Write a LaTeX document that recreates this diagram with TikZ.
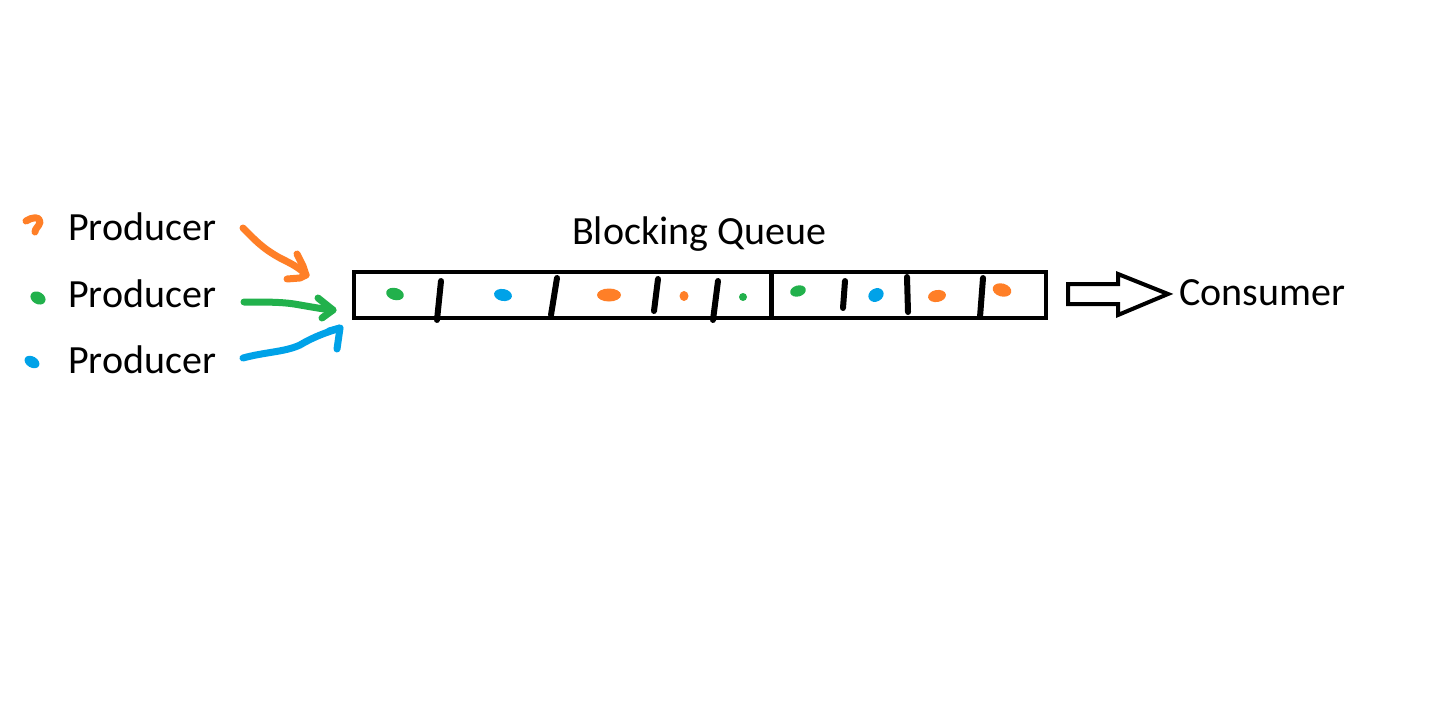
\documentclass[tikz,border=0pt]{standalone}
\usepackage{fontspec}
\setmainfont{Carlito}
\definecolor{porange}{HTML}{FF7F27}
\definecolor{pgreen}{HTML}{22B14C}
\definecolor{pblue}{HTML}{00A2E8}
\begin{document}
\begin{tikzpicture}[x=1pt,y=-1pt,
  lbl/.style={inner sep=0pt, font=\fontsize{40}{48}\selectfont, anchor=base west},
  stroke/.style={line width=7pt, line cap=round, line join=round},
  divider/.style={line width=6pt, line cap=round, black},
  blob/.style={fill=#1, draw=#1, line width=1pt}]
\useasboundingbox (0,0) rectangle (1455,717);

% labels
\node[lbl] (p1) at (68,240) {Producer};
\node[lbl] (p2) at (68,307) {Producer};
\node[lbl] (p3) at (68,373) {Producer};
\node[lbl] (title) at (572,244) {Blocking Queue};
\node[lbl] (cons) at (1179,305) {Consumer};

% queue
\node[draw, line width=4pt, minimum width=692pt, minimum height=46pt, inner sep=0pt] (q) at (700,295) {};

% producer legend blobs
\draw[stroke, porange, line width=7pt] (26,221) .. controls (32,217) and (40,216) .. (40,222) .. controls (39,227) and (35,228) .. (35,232);
\fill[pgreen, rotate around={-30:(38,298)}] (38,298) ellipse (8pt and 6pt);
\fill[pblue, rotate around={-30:(32,362)}] (32,362) ellipse (8pt and 5.5pt);

% hand-drawn arrows
\coordinate (o1) at (243,228);
\coordinate (ot) at (306,275);
\coordinate (g1) at (244,302);
\coordinate (gt) at (333,310);
\coordinate (b1) at (243,358);
\coordinate (bt) at (340,328);
\draw[stroke, porange] (o1) .. controls (255,240) and (262,248) .. (280,258) .. controls (292,264) and (300,268) .. (ot);
\draw[stroke, porange] (297,254) -- (303,266) -- (ot);
\draw[stroke, porange] (287,279) -- (300,278) -- (ot);
\draw[stroke, pgreen] (g1) .. controls (270,302) and (285,302) .. (300,305) .. controls (312,307) and (322,309) .. (gt);
\draw[stroke, pgreen] (318,298) -- (gt) -- (322,318);
\draw[stroke, pblue] (b1) .. controls (265,352) and (285,352) .. (300,345) .. controls (315,336) and (328,332) .. (bt);
\draw[stroke, pblue] (329,331) -- (bt) -- (337,349);

% dividers
\draw[divider] (441,281) -- (437,320);
\draw[divider] (557,278) -- (551,315);
\draw[divider] (658,279) -- (654,311);
\draw[divider] (718,281) -- (713,320);
\draw[line width=5pt, black] (771,272) -- (771,318);
\draw[divider] (845,281) -- (843,308);
\draw[divider] (907,277) -- (908,312);
\draw[divider] (983,278) -- (980,317);

% queue items
\fill[pgreen, rotate around={-15:(395,294)}] (395,294) ellipse (9pt and 6pt);
\fill[pblue, rotate around={-10:(503,295)}] (503,295) ellipse (9pt and 6pt);
\fill[porange] (609,295) ellipse (12pt and 6.5pt);
\fill[porange] (684,296) ellipse (4.5pt and 5pt);
\fill[pgreen] (743,297) circle (4pt);
\fill[pgreen, rotate around={15:(798,291)}] (798,291) ellipse (8pt and 5.5pt);
\fill[pblue, rotate around={30:(876,295)}] (876,295) ellipse (8pt and 6.5pt);
\fill[porange, rotate around={10:(937,296)}] (937,296) ellipse (9pt and 6pt);
\fill[porange, rotate around={-15:(1002,290)}] (1002,290) ellipse (9.5pt and 6.5pt);

% consumer hollow arrow
\coordinate (ca) at (1068,294);
\coordinate (ctip) at (1168,294);
\draw[line width=4pt, line join=miter] (ca |- 0,284) -- (1118,284) -- (1118,274) -- (ctip) -- (1118,315) -- (1118,304) -- (ca |- 0,304) -- cycle;
\end{tikzpicture}
\end{document}
